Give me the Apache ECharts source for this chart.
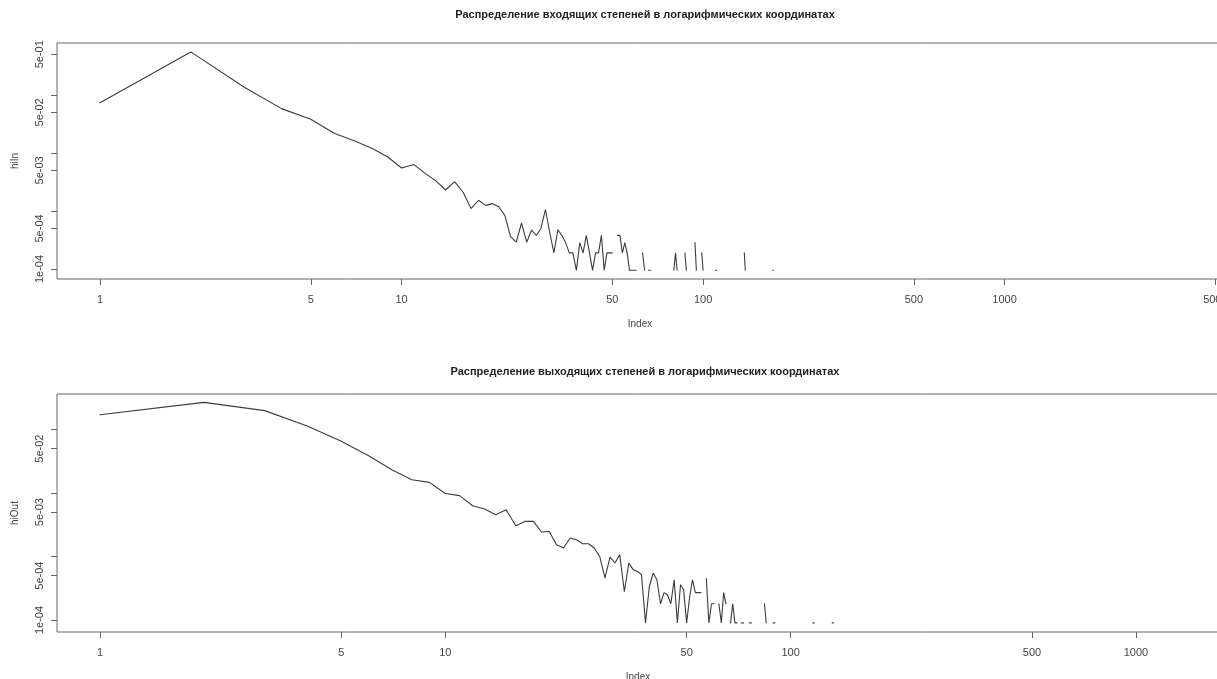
<!DOCTYPE html>
<html>
<head>
<meta charset="utf-8">
<title>Распределение степеней</title>
<script src="https://cdn.jsdelivr.net/npm/echarts@6/dist/echarts.min.js"></script>
<style>
  html, body { margin: 0; padding: 0; background: #fff; }
  #chart { width: 1217px; height: 679px; }
</style>
</head>
<body>
<div id="chart"></div>
<script>
// входящие степени: индекс -> доля вершин, null = ноль (линия рвётся)
var inIdx = [1, 2, 3, 4, 5, 6, 7, 8, 9, 10, 11, 12, 13, 14, 15, 16, 17, 18, 19, 20,
  21, 22, 23, 24, 25, 26, 27, 28, 29, 30, 31, 32, 33, 34, 35, 36, 37, 38, 39, 40,
  41, 42, 43, 44, 45, 46, 47, 48, 49, 50, 51, 52, 53, 54, 55, 56, 57, 58, 59, 60,
  61, 63, 64, 65, 66, 67, 68, 80, 81, 82, 83, 87, 88, 89, 94, 95, 96, 99, 100, 101,
  110, 111, 112, 137, 138, 139, 170, 171, 172, 195, 196, 197, 258, 259]
var inVal = [0.073, 0.55, 0.137, 0.058, 0.038, 0.0216, 0.0161, 0.0119, 0.0085, 0.0055,
  0.0063, 0.0044, 0.0033, 0.0023, 0.0032, 0.0021, 0.0011, 0.00153, 0.00125, 0.00134,
  0.00118, 0.00084, 0.00036, 0.00029, 0.00062, 0.00029, 0.00047, 0.00038, 0.0005, 0.00106,
  0.00043, 0.00019, 0.000475, 0.00038, 0.000285, 0.00019, 0.00019, 0.000095, 0.000285, 0.00019,
  0.00038, 0.00019, 0.000095, 0.00019, 0.00019, 0.00038, 0.000095, 0.00019, 0.00019, 0.00019,
  null, 0.00038, 0.00038, 0.00019, 0.000285, 0.00019, 0.000095, 0.000095, 0.000095, 0.000095,
  null, 0.00019, 0.000095, null, 0.000095, 0.000095, null, 0.000095, 0.00019, 0.000095,
  null, 0.00019, 0.000095, null, 0.000285, 0.000095, null, 0.00019, 0.000095, null,
  0.000095, 0.000095, null, 0.00019, 0.000095, null, 0.000095, 0.000095, null, 0.000095,
  0.000095, null, 0.000095, 0.000095]

// исходящие степени
var outIdx = [1, 2, 3, 4, 5, 6, 7, 8, 9, 10, 11, 12, 13, 14, 15, 16, 17, 18, 19, 20,
  21, 22, 23, 24, 25, 26, 27, 28, 29, 30, 31, 32, 33, 34, 35, 36, 37, 38, 39, 40,
  41, 42, 43, 44, 45, 46, 47, 48, 49, 50, 51, 52, 53, 54, 55, 56, 57, 58, 59, 60,
  61, 62, 63, 64, 65, 66, 67, 68, 69, 70, 71, 72, 73, 74, 76, 77, 78, 84, 85, 86,
  89, 90, 91, 116, 117, 118, 132, 133, 134, 244, 245]
var outVal = [0.171, 0.267, 0.198, 0.112, 0.065, 0.0387, 0.0233, 0.0162, 0.0147, 0.0098,
  0.0091, 0.0063, 0.0056, 0.00455, 0.00546, 0.00305, 0.00357, 0.00357, 0.00243, 0.00248,
  0.00153, 0.00136, 0.00196, 0.00184, 0.00159, 0.00159, 0.00136, 0.001, 0.00046, 0.00098,
  0.00079, 0.00107, 0.00028, 0.00079, 0.00062, 0.00058, 0.00052, 0.00009, 0.00034, 0.00055,
  0.00043, 0.00018, 0.00027, 0.00025, 0.00018, 0.00043, 0.00009, 0.00036, 0.0003, 0.00009,
  0.00023, 0.00043, 0.00027, 0.00027, 0.00027, null, 0.00045, 0.00009, 0.00018, 0.00018,
  null, 0.00018, 0.00009, 0.00027, 0.00018, null, 0.00009, 0.00018, 0.00009, 0.00009,
  null, 0.00009, 0.00009, null, 0.00009, 0.00009, null, 0.00018, 0.00009, null,
  0.00009, 0.00009, null, 0.00009, 0.00009, null, 0.00009, 0.00009, null, 0.00009,
  0.00009]

// деления осей
var xTicksIn = [1, 5, 10, 50, 100, 500, 1000, 5000]
var xTicksOut = [1, 5, 10, 50, 100, 500, 1000]
var yTicks = [1e-4, 5e-4, 1e-3, 5e-3, 1e-2, 5e-2, 1e-1, 5e-1]
var yLabelsIn = [1e-4, 5e-4, 5e-3, 5e-2, 5e-1]
var yLabelsOut = [1e-4, 5e-4, 5e-3, 5e-2]

var font = 'Liberation Sans, Arial, sans-serif'

function toPairs (idx, val) {
  return idx.map(function (x, i) {
    return [x, val[i] === null ? '-' : val[i]]
  })
}

// 5e-04 как в R
function expLabel (v) {
  var p = Number(v).toExponential(0).split('e')
  var e = parseInt(p[1], 10)
  return p[0] + 'e' + (e < 0 ? '-' : '+') + (Math.abs(e) < 10 ? '0' : '') + Math.abs(e)
}

function xAxisOpt (grid, min, max, ticks) {
  return {
    type: 'log', logBase: 10, gridIndex: grid, min: min, max: max,
    name: 'Index', nameLocation: 'middle', nameGap: 40,
    nameTextStyle: { fontFamily: font, fontSize: 10, color: '#444' },
    axisLine: { show: false },
    splitLine: { show: false },
    minorTick: { show: false },
    axisTick: { customValues: ticks, length: 6, lineStyle: { color: '#666' } },
    axisLabel: {
      customValues: ticks, margin: 15, fontFamily: font, fontSize: 11, color: '#444',
      formatter: function (v) { return String(Math.round(v)) }
    }
  }
}

function yAxisOpt (grid, min, max, labels, name) {
  return {
    type: 'log', logBase: 10, gridIndex: grid, min: min, max: max,
    name: name, nameLocation: 'middle', nameRotate: 90, nameGap: 37,
    nameTextStyle: { fontFamily: font, fontSize: 10, color: '#444' },
    axisLine: { show: false },
    splitLine: { show: false },
    minorTick: { show: false },
    axisTick: { customValues: yTicks, length: 6, lineStyle: { color: '#666' } },
    axisLabel: {
      customValues: labels, rotate: 90, margin: 12, fontFamily: font, fontSize: 11, color: '#444',
      formatter: expLabel
    }
  }
}

function titleOpt (text, top) {
  return {
    text: text, left: 640, top: top, textAlign: 'center',
    textStyle: { fontFamily: font, fontSize: 11, fontWeight: 'bold', color: '#222' }
  }
}

var option = {
  animation: false,
  backgroundColor: '#fff',
  title: [
    titleOpt('Распределение входящих степеней в логарифмических координатах', 4),
    titleOpt('Распределение выходящих степеней в логарифмических координатах', 361)
  ],
  grid: [
    { left: 57, top: 43, width: 1166, height: 236, outerBoundsMode: 'none', containLabel: false,
      show: true, borderColor: '#666', borderWidth: 1 },
    { left: 57, top: 394, width: 1162, height: 238, outerBoundsMode: 'none', containLabel: false,
      show: true, borderColor: '#666', borderWidth: 1 }
  ],
  xAxis: [
    xAxisOpt(0, 0.72, 5300, xTicksIn),
    xAxisOpt(1, 0.751, 1740, xTicksOut)
  ],
  yAxis: [
    yAxisOpt(0, 6.73e-5, 0.783, yLabelsIn, 'hiIn'),
    yAxisOpt(1, 6.47e-5, 0.362, yLabelsOut, 'hiOut')
  ],
  series: [
    {
      type: 'line', xAxisIndex: 0, yAxisIndex: 0,
      data: toPairs(inIdx, inVal),
      showSymbol: false, symbol: 'none', connectNulls: false,
      lineStyle: { color: '#3c3c3c', width: 1.1, cap: 'round' }
    },
    {
      type: 'line', xAxisIndex: 1, yAxisIndex: 1,
      data: toPairs(outIdx, outVal),
      showSymbol: false, symbol: 'none', connectNulls: false,
      lineStyle: { color: '#3c3c3c', width: 1.1, cap: 'round' }
    }
  ]
}

var myChart = echarts.init(document.getElementById('chart'))
myChart.setOption(option)
</script>
</body>
</html>
